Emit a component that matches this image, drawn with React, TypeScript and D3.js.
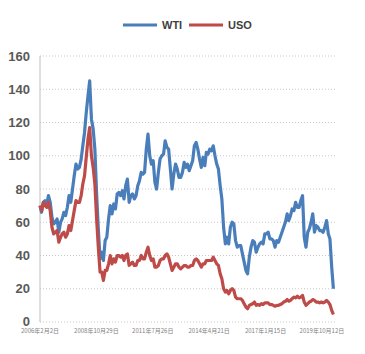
import React, { useRef, useEffect } from "react";
import * as d3 from "d3";

// monthly closes, starting Feb 2006
const startMonth = "2006-02-02";

const wti = [
  70, 66, 72, 73, 71, 76, 72, 63, 59, 60, 62,
  54, 60, 62, 66, 64, 69, 76, 72, 80, 88, 95, 92,
  93, 98, 106, 114, 126, 136, 145, 122, 116, 104, 77, 56, 38,
  42, 37, 49, 51, 62, 70, 65, 71, 68, 77, 78, 76,
  79, 74, 82, 86, 72, 76, 77, 74, 76, 82, 85, 90,
  89, 90, 104, 113, 100, 95, 97, 84, 80, 90, 98, 100,
  101, 109, 105, 104, 92, 80, 89, 95, 92, 87, 87, 90,
  96, 93, 95, 91, 94, 97, 106, 108, 104, 98, 93, 99,
  94, 102, 101, 104, 103, 106, 100, 95, 92, 82, 74, 57,
  47, 51, 47, 57, 60, 59, 49, 45, 46, 46, 41, 36,
  31, 29, 39, 45, 49, 48, 42, 45, 47, 48, 47, 53,
  53, 54, 50, 50, 49, 45, 49, 48, 51, 54, 57, 60,
  65, 61, 64, 68, 67, 72, 69, 69, 73, 76, 51, 45,
  54, 56, 60, 65, 54, 58, 57, 55, 55, 54, 57, 61,
  53, 50, 33, 20,
];

const uso = [
  70, 67, 72, 70, 69, 72, 67, 57, 53, 54, 55,
  48, 51, 53, 54, 51, 53, 58, 55, 61, 67, 73, 72,
  72, 76, 83, 88, 99, 110, 117, 100, 93, 83, 62, 45, 30,
  30, 25, 31, 31, 35, 40, 35, 38, 36, 40, 40, 39,
  40, 37, 40, 41, 34, 35, 36, 34, 34, 37, 37, 40,
  38, 38, 42, 45, 40, 37, 38, 33, 33, 34, 37, 38,
  38, 40, 41, 39, 35, 31, 33, 35, 35, 33, 32, 33,
  34, 34, 33, 33, 34, 34, 37, 38, 37, 35, 33, 35,
  35, 37, 37, 37, 37, 39, 37, 35, 34, 29, 26, 20,
  18, 19, 17, 19, 20, 19, 15, 14, 14, 14, 13, 11,
  9, 8, 10, 10.5, 11, 12, 10, 10.5, 10, 11, 10.5, 11.5,
  11.5, 11.5, 10.5, 10.5, 10, 9.5, 10, 10, 10.5, 11, 12, 12.5,
  13.5, 12.5, 13, 14, 15, 14.5, 15.5, 14.5, 15, 16, 12, 10,
  11, 12, 12.5, 13.5, 13, 12, 12, 11.5, 12, 11.5, 12, 13,
  12, 10.5, 7, 4.5,
];

const yTicks = [0, 20, 40, 60, 80, 100, 120, 140, 160];
const xTickDates = ["2006-02-02", "2008-10-29", "2011-07-26", "2014-04-21", "2017-01-15", "2019-10-12"];
const xTickLabels = ["2006年2月2日", "2008年10月29日", "2011年7月26日", "2014年4月21日", "2017年1月15日", "2019年10月12日"];

const seriesNames = ["WTI", "USO"];
const seriesColors = ["#4a7ebb", "#be4b48"];

const App = () => {
  const ref = useRef<SVGSVGElement>(null);

  useEffect(() => {
    const svg = d3.select(ref.current);
    svg.selectAll("*").remove();

    const left = 40, right = 337, top = 56, bottom = 322;
    const parse = d3.timeParse("%Y-%m-%d");
    const start = parse(startMonth)!;
    const dates = wti.map((_, i) => d3.timeMonth.offset(start, i));

    const x = d3.scaleTime()
      .domain([start, parse("2020-07-05")!])
      .range([left, right]);
    const y = d3.scaleLinear().domain([0, 160]).range([bottom, top]);

    const grid = svg.append("g");
    grid.selectAll("line")
      .data(yTicks)
      .enter()
      .append("line")
      .attr("x1", left)
      .attr("x2", right)
      .attr("y1", (d) => y(d))
      .attr("y2", (d) => y(d))
      .attr("stroke", "#c8c8c8")
      .attr("stroke-width", 1)
      .attr("stroke-dasharray", "1,2");

    svg.append("line")
      .attr("x1", left)
      .attr("x2", left)
      .attr("y1", top)
      .attr("y2", bottom)
      .attr("stroke", "#bfbfbf");

    svg.append("g")
      .selectAll("text")
      .data(yTicks)
      .enter()
      .append("text")
      .attr("x", 30)
      .attr("y", (d) => y(d) - (d === 0 ? 1 : 0))
      .attr("dy", "0.36em")
      .attr("text-anchor", "end")
      .attr("font-family", "Liberation Sans, Arial, sans-serif")
      .attr("font-weight", "bold")
      .attr("font-size", 13)
      .attr("fill", "#595959")
      .text((d) => d);

    svg.append("g")
      .selectAll("text")
      .data(xTickDates)
      .enter()
      .append("text")
      .attr("x", (d) => x(parse(d)!))
      .attr("y", 333)
      .attr("text-anchor", "middle")
      .attr("font-family", "Noto Sans CJK SC, sans-serif")
      .attr("font-size", 6)
      .attr("fill", "#7f7f7f")
      .text((_, i) => xTickLabels[i]);

    const line = d3.line<number>()
      .x((_, i) => x(dates[i]))
      .y((d) => y(d));

    [wti, uso].forEach((vals, k) => {
      svg.append("path")
        .datum(vals)
        .attr("d", line)
        .attr("fill", "none")
        .attr("stroke", seriesColors[k])
        .attr("stroke-width", 3.2)
        .attr("stroke-linejoin", "round");
    });

    // legend
    const legendX = [123, 189];
    const leg = svg.append("g");
    seriesNames.forEach((name, k) => {
      leg.append("line")
        .attr("x1", legendX[k])
        .attr("x2", legendX[k] + 34)
        .attr("y1", 25)
        .attr("y2", 25)
        .attr("stroke", seriesColors[k])
        .attr("stroke-width", 3);
      leg.append("text")
        .attr("x", legendX[k] + 39)
        .attr("y", 25)
        .attr("dy", "0.36em")
        .attr("font-family", "Liberation Sans, Arial, sans-serif")
        .attr("font-weight", "bold")
        .attr("font-size", 11)
        .attr("fill", "#404040")
        .text(name);
    });
  }, []);

  return (
    <svg
      ref={ref}
      width={365}
      height={354}
      style={{ display: "block", position: "absolute", left: 0, top: 0, background: "#fff" }}
    />
  );
};

export default App;
